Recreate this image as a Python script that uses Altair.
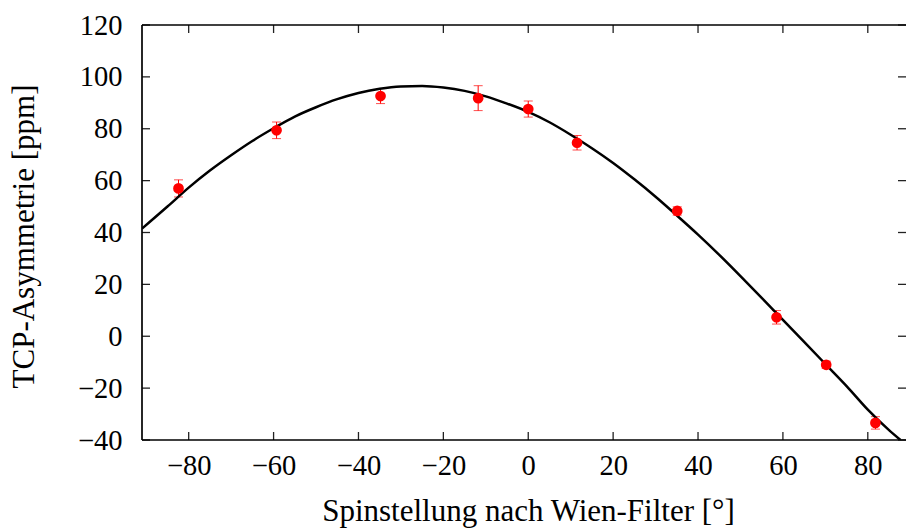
import altair as alt
import pandas as pd

# Measured data points
angle = [-82.4, -59.3, -34.8, -11.8, 0.0, 11.5, 35.1, 58.5, 70.2, 81.8]
asym = [57.0, 79.4, 92.6, 91.8, 87.6, 74.6, 48.3, 7.3, -11.0, -33.4]
err = [3.3, 3.2, 2.9, 4.8, 3.1, 2.8, 1.6, 2.6, 1.4, 2.4]

# Fit curve
curve_x = [-91, -85, -80, -75, -70, -65, -60, -55, -50, -45, -40, -35, -30, -25,
           -20, -15, -10, -5, 0, 5, 10, 15, 20, 25, 30, 35, 40, 45, 50, 55, 60,
           65, 70, 75, 80, 85, 87.7]
curve_y = [41.5, 50.0, 57.3, 63.9, 69.8, 75.3, 80.2, 84.7, 88.3, 91.4, 93.8, 95.4,
           96.3, 96.5, 95.9, 94.6, 92.5, 89.7, 86.5, 82.5, 77.7, 72.5, 66.8, 60.5,
           53.8, 46.6, 39.2, 31.4, 23.2, 14.8, 6.3, -2.2, -10.7, -19.2, -28.3,
           -36.2, -40.0]

x_ticks = [-80, -60, -40, -20, 0, 20, 40, 60, 80]
y_ticks = [-40, -20, 0, 20, 40, 60, 80, 100, 120]

W, H = 764, 415
FONT = "Liberation Serif"
LBL = 28.5
TTL = 31

pts = pd.DataFrame({"x": angle, "y": asym, "lo": [a - e for a, e in zip(asym, err)],
                    "hi": [a + e for a, e in zip(asym, err)]})
cur = pd.DataFrame({"x": curve_x, "y": curve_y})
xt = pd.DataFrame({"t": x_ticks})
yt = pd.DataFrame({"t": y_ticks})

xs = alt.Scale(domain=[-91, 89], nice=False, zero=False)
ys = alt.Scale(domain=[-40, 120], nice=False, zero=False)

x_axis = alt.Axis(values=x_ticks, domain=False, ticks=False, tickSize=0, grid=False,
                  labelFont=FONT, labelFontSize=LBL, labelColor="black", labelPadding=11,
                  title="Spinstellung nach Wien-Filter [°]", titleFont=FONT,
                  titleFontSize=TTL, titleFontWeight="normal", titleColor="black",
                  titleBaseline="alphabetic", titleX=386, titleY=80)
y_axis = alt.Axis(values=y_ticks, domain=False, ticks=False, tickSize=0, grid=False,
                  labelFont=FONT, labelFontSize=LBL, labelColor="black", labelPadding=20,
                  title="TCP-Asymmetrie [ppm]", titleFont=FONT, titleFontSize=TTL,
                  titleFontWeight="normal", titleColor="black",
                  titleBaseline="alphabetic", titleX=-109, titleY=211, titleAngle=-90)

base_pts = alt.Chart(pts)

errbars = base_pts.mark_rule(color="red", strokeWidth=1).encode(
    x=alt.X("x:Q", scale=xs, axis=x_axis),
    y=alt.Y("lo:Q", scale=ys, axis=y_axis),
    y2="hi:Q",
)
caps_lo = base_pts.mark_tick(color="red", orient="horizontal", size=9, thickness=1).encode(
    x=alt.X("x:Q", scale=xs), y=alt.Y("lo:Q", scale=ys))
caps_hi = base_pts.mark_tick(color="red", orient="horizontal", size=9, thickness=1).encode(
    x=alt.X("x:Q", scale=xs), y=alt.Y("hi:Q", scale=ys))

line = alt.Chart(cur).mark_line(color="black", strokeWidth=2.5, interpolate="monotone",
                                clip=True).encode(
    x=alt.X("x:Q", scale=xs), y=alt.Y("y:Q", scale=ys))

dots = base_pts.mark_circle(color="red", size=115, opacity=1).encode(
    x=alt.X("x:Q", scale=xs), y=alt.Y("y:Q", scale=ys))

tick_col = "#222222"
tb = alt.Chart(xt).mark_rule(color=tick_col, strokeWidth=1.3).encode(
    x=alt.X("t:Q", scale=xs), y=alt.value(H), y2=alt.value(H - 8))
tt = alt.Chart(xt).mark_rule(color=tick_col, strokeWidth=1.3).encode(
    x=alt.X("t:Q", scale=xs), y=alt.value(0), y2=alt.value(8))
tl = alt.Chart(yt).mark_rule(color=tick_col, strokeWidth=1.3).encode(
    y=alt.Y("t:Q", scale=ys), x=alt.value(0), x2=alt.value(8))
tr = alt.Chart(yt).mark_rule(color=tick_col, strokeWidth=1.3).encode(
    y=alt.Y("t:Q", scale=ys), x=alt.value(W), x2=alt.value(W - 8))

frame_df = pd.DataFrame({"k": [0]})
fr_top = alt.Chart(frame_df).mark_rule(color="black", strokeWidth=1.7).encode(
    x=alt.value(0), x2=alt.value(W), y=alt.value(0))
fr_bot = alt.Chart(frame_df).mark_rule(color="black", strokeWidth=1.7).encode(
    x=alt.value(0), x2=alt.value(W), y=alt.value(H))
fr_left = alt.Chart(frame_df).mark_rule(color="black", strokeWidth=1.7).encode(
    x=alt.value(0), y=alt.value(0), y2=alt.value(H))

chart = alt.layer(errbars, caps_lo, caps_hi, line, dots, tb, tt, tl, tr,
                  fr_top, fr_bot, fr_left).properties(
    width=W, height=H,
    padding={"left": 142, "top": 25, "right": 0, "bottom": 88},
    autosize=alt.AutoSizeParams(type="none"),
    background="white",
).configure_view(stroke=None)

chart.save("out.html", embed_options={"renderer": "svg", "actions": False})
